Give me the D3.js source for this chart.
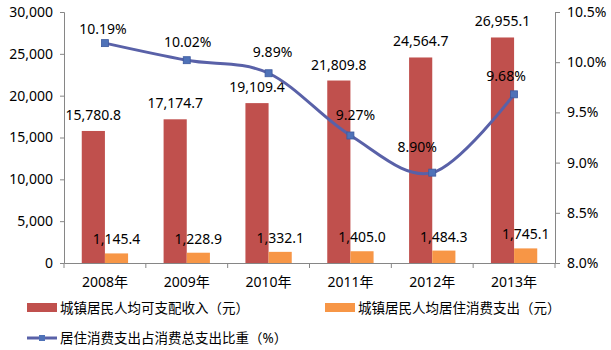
<!DOCTYPE html>
<html><head><meta charset="utf-8">
<script src="https://cdn.jsdelivr.net/npm/d3@7"></script>
<style>
html,body{margin:0;padding:0;background:#fff;}
text{font-family:"Noto Sans","Noto Sans CJK SC",sans-serif;fill:#000;}
</style></head>
<body><svg id="chart" width="611" height="350"></svg>
<script>
const years = ["2008年","2009年","2010年","2011年","2012年","2013年"];
const income = [15780.8,17174.7,19109.4,21809.8,24564.7,26955.1];
const housing = [1145.4,1228.9,1332.1,1405.0,1484.3,1745.1];
const ratio = [10.19,10.02,9.89,9.27,8.90,9.68];
const leftTicks = [0,5000,10000,15000,20000,25000,30000];
const rightTicks = [8.0,8.5,9.0,9.5,10.0,10.5];
const seriesNames = ["城镇居民人均可支配收入（元）","城镇居民人均居住消费支出（元）","居住消费支出占消费总支出比重（%）"];
// label nudges (layout only) for ratio labels [dx, dy]
const ratioLabelNudge = [[-2,-9],[1,-13],[4,-16],[5,-15],[-15,-21],[-8,-13]];

const colors = {income:"#C0504D", housing:"#F79646", line:"#5961A8", marker:"#4F72B8", axis:"#868686"};
const svg = d3.select("#chart");
const L = 64, R = 555, T = 12, B = 263;

const x = d3.scaleBand().domain(years).range([L,R]).padding(0);
const yL = d3.scaleLinear().domain([0,30000]).range([B,T]);
const yR = d3.scaleLinear().domain([8,10.5]).range([B,T]);
const bw = x.bandwidth()*0.283;
const fmt = d3.format(",.1f");

// bars
const g = svg.append("g");
g.selectAll(".inc").data(income).enter().append("rect")
  .attr("x",(d,i)=>x(years[i])+x.bandwidth()/2-bw).attr("y",d=>yL(d))
  .attr("width",bw).attr("height",d=>B-yL(d)).attr("fill",colors.income);
g.selectAll(".hou").data(housing).enter().append("rect")
  .attr("x",(d,i)=>x(years[i])+x.bandwidth()/2).attr("y",d=>yL(d))
  .attr("width",bw).attr("height",d=>B-yL(d)).attr("fill",colors.housing);

// axes
const axL = svg.append("g").attr("transform",`translate(${L},0)`)
  .call(d3.axisLeft(yL).tickValues(leftTicks).tickFormat(d3.format(",")).tickSize(4).tickPadding(7));
const axR = svg.append("g").attr("transform",`translate(${R},0)`)
  .call(d3.axisRight(yR).tickValues(rightTicks).tickFormat(d=>d.toFixed(1)+"%").tickSize(5).tickPadding(7));
const axB = svg.append("g").attr("transform",`translate(0,${B})`)
  .call(d3.axisBottom(x).tickSize(0).tickPadding(14));
[axL,axR,axB].forEach(a=>{
  a.select(".domain").attr("stroke",colors.axis);
  a.selectAll(".tick line").attr("stroke",colors.axis);
  a.selectAll("text").style("font-size","14px").attr("fill","#000");
});
// category separators on x axis
svg.append("g").selectAll("line").data(d3.range(years.length+1)).enter().append("line")
  .attr("x1",i=>L+i*x.bandwidth()).attr("x2",i=>L+i*x.bandwidth())
  .attr("y1",B).attr("y2",B+5).attr("stroke",colors.axis);

// bar labels
svg.append("g").selectAll("text").data(income).enter().append("text")
  .attr("x",(d,i)=>x(years[i])+x.bandwidth()/2-bw/2).attr("y",d=>yL(d)-11)
  .attr("text-anchor","middle").style("font-size","14px").text(d=>fmt(d));
svg.append("g").selectAll("text").data(housing).enter().append("text")
  .attr("x",(d,i)=>x(years[i])+x.bandwidth()/2+bw/2).attr("y",d=>yL(d)-9)
  .attr("text-anchor","middle").style("font-size","14px").text(d=>fmt(d));

// line
const cx = i=>x(years[i])+x.bandwidth()/2;
const line = d3.line().x((d,i)=>cx(i)).y(d=>yR(d)).curve(d3.curveCardinal.tension(0));
svg.append("path").datum(ratio).attr("d",line).attr("fill","none")
  .attr("stroke",colors.line).attr("stroke-width",3);
svg.append("g").selectAll("rect").data(ratio).enter().append("rect")
  .attr("x",(d,i)=>cx(i)-3.5).attr("y",d=>yR(d)-3.5).attr("width",7).attr("height",7)
  .attr("fill",colors.marker).attr("stroke","#3D5A9E").attr("stroke-width",0.8);
svg.append("g").selectAll("text").data(ratio).enter().append("text")
  .attr("x",(d,i)=>cx(i)+ratioLabelNudge[i][0]).attr("y",(d,i)=>yR(d)+ratioLabelNudge[i][1])
  .attr("text-anchor","middle").style("font-size","14px").text(d=>d.toFixed(2)+"%");

// legend
const lg = svg.append("g").style("font-size","13.5px");
lg.append("rect").attr("x",27).attr("y",303).attr("width",30).attr("height",9).attr("fill",colors.income);
lg.append("text").attr("x",60).attr("y",308).attr("dominant-baseline","central").text(seriesNames[0]);
lg.append("rect").attr("x",325).attr("y",303).attr("width",30).attr("height",9).attr("fill",colors.housing);
lg.append("text").attr("x",358).attr("y",308).attr("dominant-baseline","central").text(seriesNames[1]);
lg.append("line").attr("x1",27).attr("x2",57).attr("y1",338).attr("y2",338).attr("stroke",colors.line).attr("stroke-width",3);
lg.append("rect").attr("x",39).attr("y",335).attr("width",6).attr("height",6).attr("fill",colors.marker);
lg.append("text").attr("x",60).attr("y",338).attr("dominant-baseline","central").text(seriesNames[2]);
</script></body></html>
